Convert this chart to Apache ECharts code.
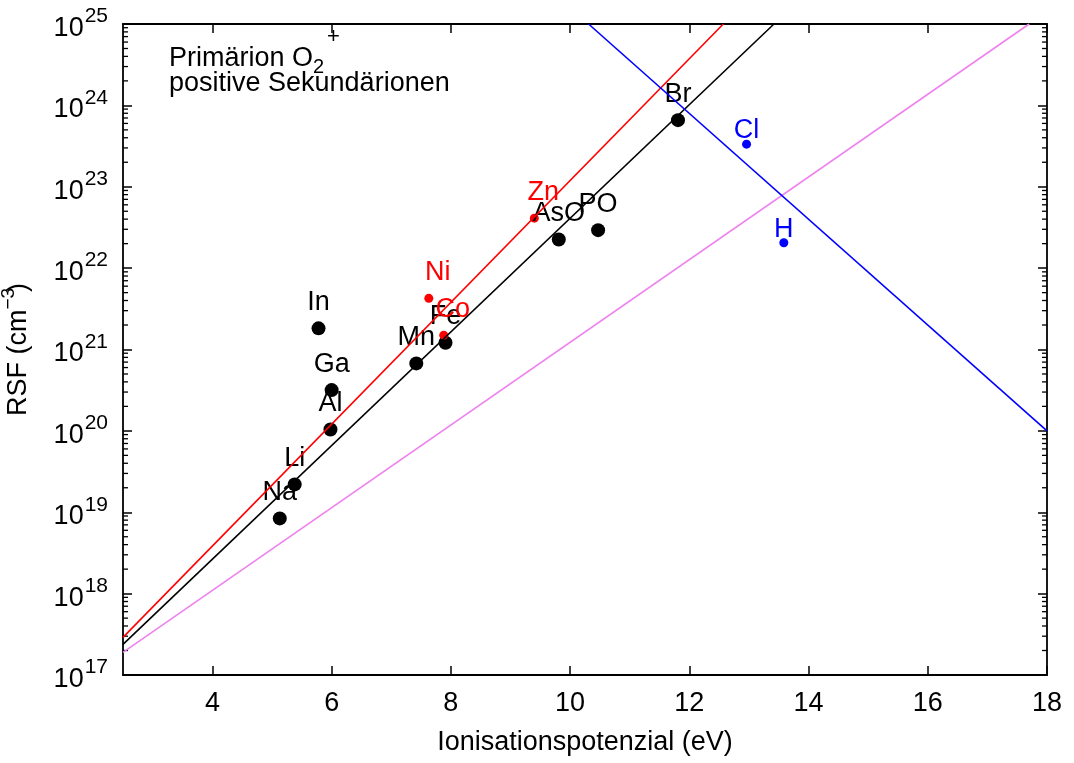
<!DOCTYPE html>
<html>
<head>
<meta charset="utf-8">
<script src="https://cdn.jsdelivr.net/npm/echarts@6.0.0/dist/echarts.min.js"></script>
<style>html,body{margin:0;padding:0;background:#fff;}#c{width:1074px;height:763px;}</style>
</head>
<body>
<div id="c"></div>
<script>
// ---- data ----
const xTicks = [4, 6, 8, 10, 12, 14, 16, 18];
const yTickExps = [17, 18, 19, 20, 21, 22, 23, 24, 25];

const blackNames = ['Na', 'Li', 'Al', 'Ga', 'In', 'Mn', 'Fe', 'AsO', 'PO', 'Br'];
const blackX = [5.13, 5.38, 5.98, 6.00, 5.78, 7.42, 7.91, 9.81, 10.47, 11.81];
const blackY = [8.4e18, 2.2e19, 1.04e20, 3.17e20, 1.82e21, 6.75e20, 1.21e21, 2.25e22, 2.93e22, 6.58e23];

const redNames = ['Zn', 'Ni', 'Co'];
const redX = [9.40, 7.63, 7.88];
const redY = [4.11e22, 4.25e21, 1.50e21];

const blueNames = ['Cl', 'H'];
const blueX = [12.96, 13.585];
const blueY = [3.34e23, 2.05e22];

const redLineX = [2.5, 12.57];
const redLineY = [2.9e17, 1e25];
const blackLineX = [2.5, 13.42];
const blackLineY = [2.38e17, 1e25];
const violetLineX = [2.5, 17.70];
const violetLineY = [1.9e17, 1e25];
const blueLineX = [10.31, 18];
const blueLineY = [1e25, 1e20];

// ---- build ----
const FONT = 'Liberation Sans, Arial, sans-serif';
const XMIN = 2.5, XMAX = 18, YMIN = 1e17, YMAX = 1e25;
const zip = (xs, ys) => xs.map((x, i) => [x, ys[i]]);
const named = (ns, xs, ys) => ns.map((n, i) => ({ name: n, value: [xs[i], ys[i]] }));
const yTickVals = yTickExps.map(e => Math.pow(10, e));

const minorVals = [];
for (let i = 0; i < yTickExps.length - 1; i++) {
  for (let m = 2; m <= 9; m++) minorVals.push([XMIN, m * Math.pow(10, yTickExps[i])]);
}

const chart = echarts.init(document.getElementById('c'), null, { renderer: 'canvas' });

const axisLineStyle = { show: true, lineStyle: { color: '#000', width: 1.8 } };
const tickStyle = { color: '#000', width: 1.5 };
const yLabel = {
  show: true, margin: 15, fontFamily: FONT, color: '#000',
  customValues: yTickVals,
  formatter: v => '{b|10}{e|' + Math.round(Math.log10(v)) + '}',
  rich: {
    b: { fontSize: 27, fontFamily: FONT, color: '#000', verticalAlign: 'bottom' },
    e: { fontSize: 21, fontFamily: FONT, color: '#000', verticalAlign: 'bottom', padding: [0, 0, 15, 1] }
  }
};

const labelBase = { show: true, formatter: '{b}', position: 'inside', fontSize: 27, fontFamily: FONT, opacity: 1 };

const option = {
  animation: false,
  backgroundColor: '#fff',
  grid: { left: 123, right: 27, top: 24, bottom: 88, containLabel: false },
  xAxis: [
    {
      type: 'value', min: XMIN, max: XMAX, position: 'bottom',
      axisLine: axisLineStyle,
      axisTick: { show: true, inside: true, length: 9, customValues: xTicks, lineStyle: tickStyle },
      axisLabel: { show: true, customValues: xTicks, margin: 15, fontSize: 27, fontFamily: FONT, color: '#000' },
      splitLine: { show: false },
      name: 'Ionisationspotenzial (eV)', nameLocation: 'middle', nameGap: 54,
      nameTextStyle: { fontSize: 27, fontFamily: FONT, color: '#000' }
    },
    {
      type: 'value', min: XMIN, max: XMAX, position: 'top',
      axisLine: axisLineStyle,
      axisTick: { show: true, inside: true, length: 9, customValues: xTicks, lineStyle: tickStyle },
      axisLabel: { show: false },
      splitLine: { show: false }
    }
  ],
  yAxis: [
    {
      type: 'log', logBase: 10, min: YMIN, max: YMAX, position: 'left',
      axisLine: axisLineStyle,
      axisTick: { show: true, inside: true, length: 9, customValues: yTickVals, lineStyle: tickStyle },
      axisLabel: yLabel,
      splitLine: { show: false }
    },
    {
      type: 'log', logBase: 10, min: YMIN, max: YMAX, position: 'right',
      axisLine: axisLineStyle,
      axisTick: { show: true, inside: true, length: 9, customValues: yTickVals, lineStyle: tickStyle },
      axisLabel: { show: false },
      splitLine: { show: false }
    }
  ],
  series: [
    {
      type: 'custom', name: 'minorTicks', silent: true, clip: false,
      encode: { x: 0, y: 1 },
      data: minorVals,
      renderItem: (params, api) => {
        const v = api.value(1);
        const pL = api.coord([XMIN, v]);
        const pR = api.coord([XMAX, v]);
        return {
          type: 'group', children: [
            { type: 'line', shape: { x1: pL[0], y1: pL[1], x2: pL[0] + 5, y2: pL[1] }, style: { stroke: '#000', lineWidth: 1.3 } },
            { type: 'line', shape: { x1: pR[0], y1: pR[1], x2: pR[0] - 5, y2: pR[1] }, style: { stroke: '#000', lineWidth: 1.3 } }
          ]
        };
      }
    },
    { type: 'line', data: zip(violetLineX, violetLineY), showSymbol: false, silent: true, lineStyle: { color: '#ee82ee', width: 1.6 } },
    { type: 'line', data: zip(blackLineX, blackLineY), showSymbol: false, silent: true, lineStyle: { color: '#000', width: 1.6 } },
    { type: 'line', data: zip(redLineX, redLineY), showSymbol: false, silent: true, lineStyle: { color: '#ff0000', width: 1.6 } },
    { type: 'line', data: zip(blueLineX, blueLineY), showSymbol: false, silent: true, lineStyle: { color: '#0000ff', width: 1.6 } },
    {
      type: 'scatter', data: named(blackNames, blackX, blackY), symbol: 'circle', symbolSize: 14,
      itemStyle: { color: '#000', opacity: 1 },
      label: Object.assign({}, labelBase, { color: '#000', offset: [0, -26] })
    },
    {
      type: 'scatter', data: named(redNames, redX, redY), symbol: 'circle', symbolSize: 9,
      itemStyle: { color: '#ff0000', opacity: 1 },
      label: Object.assign({}, labelBase, { color: '#ff0000', offset: [9, -25.5] })
    },
    {
      type: 'scatter', data: named(blueNames, blueX, blueY), symbol: 'circle', symbolSize: 9,
      itemStyle: { color: '#0000ff', opacity: 1 },
      label: Object.assign({}, labelBase, { color: '#0000ff', offset: [0, -13.5] })
    }
  ],
  graphic: [
    { type: 'text', x: 169, y: 59, style: { text: 'Primärion O', font: '27px ' + FONT, fill: '#000', align: 'left', verticalAlign: 'middle' } },
    { type: 'text', x: 313, y: 67, style: { text: '2', font: '20px ' + FONT, fill: '#000', align: 'left', verticalAlign: 'middle' } },
    { type: 'text', x: 327, y: 37, style: { text: '+', font: '22px ' + FONT, fill: '#000', align: 'left', verticalAlign: 'middle' } },
    { type: 'text', x: 169, y: 84, style: { text: 'positive Sekundärionen', font: '27px ' + FONT, fill: '#000', align: 'left', verticalAlign: 'middle' } },
    {
      type: 'group', x: 19, y: 350, rotation: Math.PI / 2,
      children: [
        { type: 'text', x: -66, y: 0, style: { text: 'RSF (cm', font: '27px ' + FONT, fill: '#000', align: 'left', verticalAlign: 'middle' } },
        { type: 'text', x: 40.5, y: -10, style: { text: '−3', font: '19px ' + FONT, fill: '#000', align: 'left', verticalAlign: 'middle' } },
        { type: 'text', x: 58, y: 0, style: { text: ')', font: '27px ' + FONT, fill: '#000', align: 'left', verticalAlign: 'middle' } }
      ]
    }
  ]
};
chart.setOption(option);
</script>
</body>
</html>
